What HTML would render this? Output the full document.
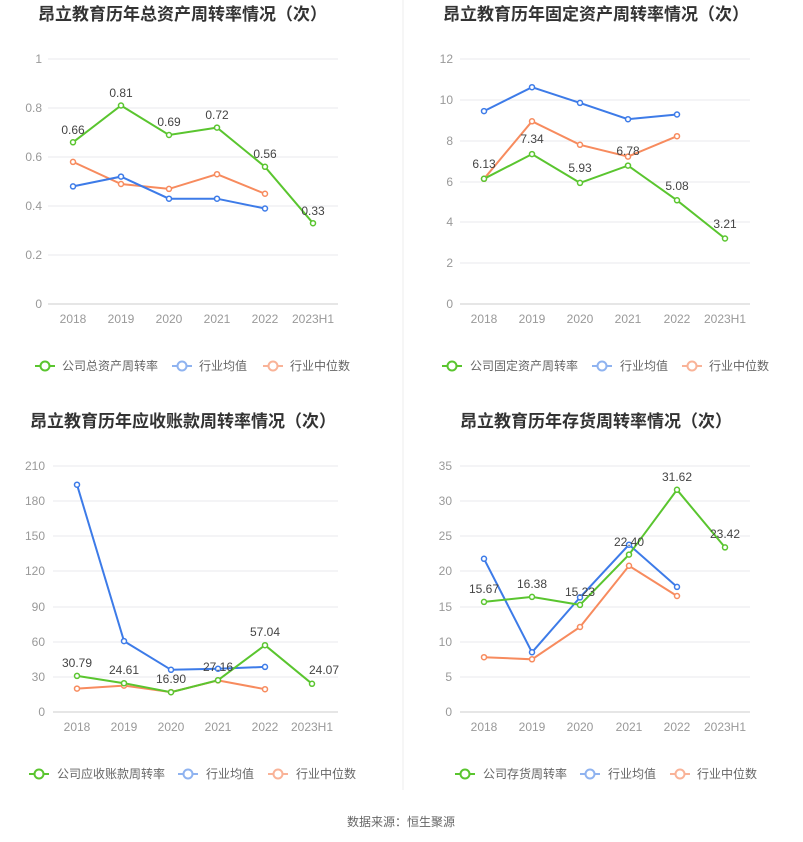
<!DOCTYPE html>
<html><head><meta charset="utf-8"><style>
body{margin:0;background:#fff;}
svg{display:block;font-family:"Liberation Sans","Noto Sans CJK SC",sans-serif;}
.t{font-size:17px;font-weight:bold;fill:#333;}
.ax{font-size:12px;fill:#999;}
.lb{font-size:12px;fill:#444;text-anchor:middle;}
.lg{font-size:12px;fill:#666;}
.g{stroke:#e8e8ee;stroke-width:1;}
.pl{fill:none;stroke-width:2;}
</style></head><body>
<svg width="803" height="842" viewBox="0 0 803 842">
<line x1="403" y1="0" x2="403" y2="790" stroke="#eee"/>
<!-- Chart 1 -->
<text class="t" x="38" y="20">昂立教育历年总资产周转率情况（次）</text>
<g class="g"><line x1="48" y1="59" x2="338" y2="59"/><line x1="48" y1="108" x2="338" y2="108"/><line x1="48" y1="157" x2="338" y2="157"/><line x1="48" y1="206" x2="338" y2="206"/><line x1="48" y1="255" x2="338" y2="255"/></g>
<line x1="48" y1="304" x2="338" y2="304" stroke="#ccc"/>
<g class="ax" text-anchor="end"><text x="42" y="63">1</text><text x="42" y="112">0.8</text><text x="42" y="161">0.6</text><text x="42" y="210">0.4</text><text x="42" y="259">0.2</text><text x="42" y="308">0</text></g>
<g class="ax" text-anchor="middle"><text x="73" y="323">2018</text><text x="121" y="323">2019</text><text x="169" y="323">2020</text><text x="217" y="323">2021</text><text x="265" y="323">2022</text><text x="313" y="323">2023H1</text></g>
<polyline class="pl" stroke="#f78b5e" points="73,161.9 121,184 169,188.9 217,174.2 265,193.75"/>
<polyline class="pl" stroke="#3d7be8" points="73,186.4 121,176.6 169,198.7 217,198.7 265,208.5"/>
<polyline class="pl" stroke="#5ac52f" points="73,142.3 121,105.5 169,135 217,127.6 265,166.8 313,223.2"/>
<g fill="#fff" stroke-width="1.5">
<g stroke="#f78b5e"><circle cx="73" cy="161.9" r="2.5"/><circle cx="121" cy="184" r="2.5"/><circle cx="169" cy="188.9" r="2.5"/><circle cx="217" cy="174.2" r="2.5"/><circle cx="265" cy="193.75" r="2.5"/></g>
<g stroke="#3d7be8"><circle cx="73" cy="186.4" r="2.5"/><circle cx="121" cy="176.6" r="2.5"/><circle cx="169" cy="198.7" r="2.5"/><circle cx="217" cy="198.7" r="2.5"/><circle cx="265" cy="208.5" r="2.5"/></g>
<g stroke="#5ac52f"><circle cx="73" cy="142.3" r="2.5"/><circle cx="121" cy="105.5" r="2.5"/><circle cx="169" cy="135" r="2.5"/><circle cx="217" cy="127.6" r="2.5"/><circle cx="265" cy="166.8" r="2.5"/><circle cx="313" cy="223.2" r="2.5"/></g></g>
<g class="lb"><text x="73" y="134">0.66</text><text x="121" y="97">0.81</text><text x="169" y="126">0.69</text><text x="217" y="119">0.72</text><text x="265" y="158">0.56</text><text x="313" y="215">0.33</text></g>
<!-- Chart 2 -->
<text class="t" x="443" y="20">昂立教育历年固定资产周转率情况（次）</text>
<g class="g"><line x1="460" y1="59" x2="750" y2="59"/><line x1="460" y1="100" x2="750" y2="100"/><line x1="460" y1="141" x2="750" y2="141"/><line x1="460" y1="182" x2="750" y2="182"/><line x1="460" y1="222" x2="750" y2="222"/><line x1="460" y1="263" x2="750" y2="263"/></g>
<line x1="460" y1="304" x2="750" y2="304" stroke="#ccc"/>
<g class="ax" text-anchor="end"><text x="453" y="63">12</text><text x="453" y="104">10</text><text x="453" y="145">8</text><text x="453" y="186">6</text><text x="453" y="226">4</text><text x="453" y="267">2</text><text x="453" y="308">0</text></g>
<g class="ax" text-anchor="middle"><text x="484" y="323">2018</text><text x="532" y="323">2019</text><text x="580" y="323">2020</text><text x="628" y="323">2021</text><text x="677" y="323">2022</text><text x="725" y="323">2023H1</text></g>
<polyline class="pl" stroke="#f78b5e" points="484,178.8 532,121.3 580,144.8 628,156.6 677,136.2"/>
<polyline class="pl" stroke="#3d7be8" points="484,111.1 532,87.2 580,102.9 628,119.2 677,114.5"/>
<polyline class="pl" stroke="#5ac52f" points="484,178.8 532,154.1 580,182.9 628,165.6 677,200.3 725,238.5"/>
<g fill="#fff" stroke-width="1.5">
<g stroke="#f78b5e"><circle cx="484" cy="178.8" r="2.5"/><circle cx="532" cy="121.3" r="2.5"/><circle cx="580" cy="144.8" r="2.5"/><circle cx="628" cy="156.6" r="2.5"/><circle cx="677" cy="136.2" r="2.5"/></g>
<g stroke="#3d7be8"><circle cx="484" cy="111.1" r="2.5"/><circle cx="532" cy="87.2" r="2.5"/><circle cx="580" cy="102.9" r="2.5"/><circle cx="628" cy="119.2" r="2.5"/><circle cx="677" cy="114.5" r="2.5"/></g>
<g stroke="#5ac52f"><circle cx="484" cy="178.8" r="2.5"/><circle cx="532" cy="154.1" r="2.5"/><circle cx="580" cy="182.9" r="2.5"/><circle cx="628" cy="165.6" r="2.5"/><circle cx="677" cy="200.3" r="2.5"/><circle cx="725" cy="238.5" r="2.5"/></g></g>
<g class="lb"><text x="484" y="168">6.13</text><text x="532" y="143">7.34</text><text x="580" y="172">5.93</text><text x="628" y="155">6.78</text><text x="677" y="190">5.08</text><text x="725" y="228">3.21</text></g>
<!-- Chart 3 -->
<text class="t" x="30" y="427">昂立教育历年应收账款周转率情况（次）</text>
<g class="g"><line x1="53" y1="466" x2="338" y2="466"/><line x1="53" y1="501" x2="338" y2="501"/><line x1="53" y1="536" x2="338" y2="536"/><line x1="53" y1="571" x2="338" y2="571"/><line x1="53" y1="607" x2="338" y2="607"/><line x1="53" y1="642" x2="338" y2="642"/><line x1="53" y1="677" x2="338" y2="677"/></g>
<line x1="53" y1="712" x2="338" y2="712" stroke="#ccc"/>
<g class="ax" text-anchor="end"><text x="45" y="470">210</text><text x="45" y="505">180</text><text x="45" y="540">150</text><text x="45" y="575">120</text><text x="45" y="611">90</text><text x="45" y="646">60</text><text x="45" y="681">30</text><text x="45" y="716">0</text></g>
<g class="ax" text-anchor="middle"><text x="77" y="731">2018</text><text x="124" y="731">2019</text><text x="171" y="731">2020</text><text x="218" y="731">2021</text><text x="265" y="731">2022</text><text x="312" y="731">2023H1</text></g>
<polyline class="pl" stroke="#f78b5e" points="77,688.6 124,685.6 171,692.1 218,680.4 265,689.2"/>
<polyline class="pl" stroke="#3d7be8" points="77,484.7 124,641.1 171,669.8 218,668.7 265,666.9"/>
<polyline class="pl" stroke="#5ac52f" points="77,675.9 124,683.2 171,692.2 218,680.2 265,645.2 312,683.8"/>
<g fill="#fff" stroke-width="1.5">
<g stroke="#f78b5e"><circle cx="77" cy="688.6" r="2.5"/><circle cx="124" cy="685.6" r="2.5"/><circle cx="171" cy="692.1" r="2.5"/><circle cx="218" cy="680.4" r="2.5"/><circle cx="265" cy="689.2" r="2.5"/></g>
<g stroke="#3d7be8"><circle cx="77" cy="484.7" r="2.5"/><circle cx="124" cy="641.1" r="2.5"/><circle cx="171" cy="669.8" r="2.5"/><circle cx="218" cy="668.7" r="2.5"/><circle cx="265" cy="666.9" r="2.5"/></g>
<g stroke="#5ac52f"><circle cx="77" cy="675.9" r="2.5"/><circle cx="124" cy="683.2" r="2.5"/><circle cx="171" cy="692.2" r="2.5"/><circle cx="218" cy="680.2" r="2.5"/><circle cx="265" cy="645.2" r="2.5"/><circle cx="312" cy="683.8" r="2.5"/></g></g>
<g class="lb"><text x="77" y="667">30.79</text><text x="124" y="674">24.61</text><text x="171" y="683">16.90</text><text x="218" y="671">27.16</text><text x="265" y="636">57.04</text><text x="324" y="674">24.07</text></g>
<!-- Chart 4 -->
<text class="t" x="460" y="427">昂立教育历年存货周转率情况（次）</text>
<g class="g"><line x1="460" y1="466" x2="750" y2="466"/><line x1="460" y1="501" x2="750" y2="501"/><line x1="460" y1="536" x2="750" y2="536"/><line x1="460" y1="571" x2="750" y2="571"/><line x1="460" y1="607" x2="750" y2="607"/><line x1="460" y1="642" x2="750" y2="642"/><line x1="460" y1="677" x2="750" y2="677"/></g>
<line x1="460" y1="712" x2="750" y2="712" stroke="#ccc"/>
<g class="ax" text-anchor="end"><text x="452" y="470">35</text><text x="452" y="505">30</text><text x="452" y="540">25</text><text x="452" y="575">20</text><text x="452" y="611">15</text><text x="452" y="646">10</text><text x="452" y="681">5</text><text x="452" y="716">0</text></g>
<g class="ax" text-anchor="middle"><text x="484" y="731">2018</text><text x="532" y="731">2019</text><text x="580" y="731">2020</text><text x="629" y="731">2021</text><text x="677" y="731">2022</text><text x="725" y="731">2023H1</text></g>
<polyline class="pl" stroke="#f78b5e" points="484,657.2 532,659.3 580,627 629,565.8 677,596"/>
<polyline class="pl" stroke="#3d7be8" points="484,558.8 532,652.3 580,597.4 629,544.7 677,586.9"/>
<polyline class="pl" stroke="#5ac52f" points="484,601.9 532,596.9 580,604.9 629,554.6 677,489.8 725,547.4"/>
<g fill="#fff" stroke-width="1.5">
<g stroke="#f78b5e"><circle cx="484" cy="657.2" r="2.5"/><circle cx="532" cy="659.3" r="2.5"/><circle cx="580" cy="627" r="2.5"/><circle cx="629" cy="565.8" r="2.5"/><circle cx="677" cy="596" r="2.5"/></g>
<g stroke="#3d7be8"><circle cx="484" cy="558.8" r="2.5"/><circle cx="532" cy="652.3" r="2.5"/><circle cx="580" cy="597.4" r="2.5"/><circle cx="629" cy="544.7" r="2.5"/><circle cx="677" cy="586.9" r="2.5"/></g>
<g stroke="#5ac52f"><circle cx="484" cy="601.9" r="2.5"/><circle cx="532" cy="596.9" r="2.5"/><circle cx="580" cy="604.9" r="2.5"/><circle cx="629" cy="554.6" r="2.5"/><circle cx="677" cy="489.8" r="2.5"/><circle cx="725" cy="547.4" r="2.5"/></g></g>
<g class="lb"><text x="484" y="593">15.67</text><text x="532" y="588">16.38</text><text x="580" y="596">15.23</text><text x="629" y="546">22.40</text><text x="677" y="481">31.62</text><text x="725" y="538">23.42</text></g>
<!-- Legends -->
<g stroke-width="2" fill="#fff">
<line x1="35" y1="366" x2="55" y2="366" stroke="#5ac52f"/><circle cx="45" cy="366" r="4.5" stroke="#5ac52f"/>
<line x1="172" y1="366" x2="192" y2="366" stroke="#8fb3f0"/><circle cx="182" cy="366" r="4.5" stroke="#8fb3f0"/>
<line x1="263" y1="366" x2="283" y2="366" stroke="#f9b398"/><circle cx="273" cy="366" r="4.5" stroke="#f9b398"/>
<line x1="442" y1="366" x2="462" y2="366" stroke="#5ac52f"/><circle cx="452" cy="366" r="4.5" stroke="#5ac52f"/>
<line x1="592" y1="366" x2="612" y2="366" stroke="#8fb3f0"/><circle cx="602" cy="366" r="4.5" stroke="#8fb3f0"/>
<line x1="682" y1="366" x2="702" y2="366" stroke="#f9b398"/><circle cx="692" cy="366" r="4.5" stroke="#f9b398"/>
<line x1="29" y1="774" x2="49" y2="774" stroke="#5ac52f"/><circle cx="39" cy="774" r="4.5" stroke="#5ac52f"/>
<line x1="178" y1="774" x2="198" y2="774" stroke="#8fb3f0"/><circle cx="188" cy="774" r="4.5" stroke="#8fb3f0"/>
<line x1="268" y1="774" x2="288" y2="774" stroke="#f9b398"/><circle cx="278" cy="774" r="4.5" stroke="#f9b398"/>
<line x1="455" y1="774" x2="475" y2="774" stroke="#5ac52f"/><circle cx="465" cy="774" r="4.5" stroke="#5ac52f"/>
<line x1="580" y1="774" x2="600" y2="774" stroke="#8fb3f0"/><circle cx="590" cy="774" r="4.5" stroke="#8fb3f0"/>
<line x1="670" y1="774" x2="690" y2="774" stroke="#f9b398"/><circle cx="680" cy="774" r="4.5" stroke="#f9b398"/>
</g>
<g class="lg">
<text x="62" y="370">公司总资产周转率</text><text x="199" y="370">行业均值</text><text x="290" y="370">行业中位数</text>
<text x="470" y="370">公司固定资产周转率</text><text x="620" y="370">行业均值</text><text x="709" y="370">行业中位数</text>
<text x="57" y="778">公司应收账款周转率</text><text x="206" y="778">行业均值</text><text x="296" y="778">行业中位数</text>
<text x="483" y="778">公司存货周转率</text><text x="608" y="778">行业均值</text><text x="697" y="778">行业中位数</text>
</g>
<text x="401" y="826" text-anchor="middle" style="font-size:12px;fill:#666">数据来源：恒生聚源</text>
</svg>
</body></html>
